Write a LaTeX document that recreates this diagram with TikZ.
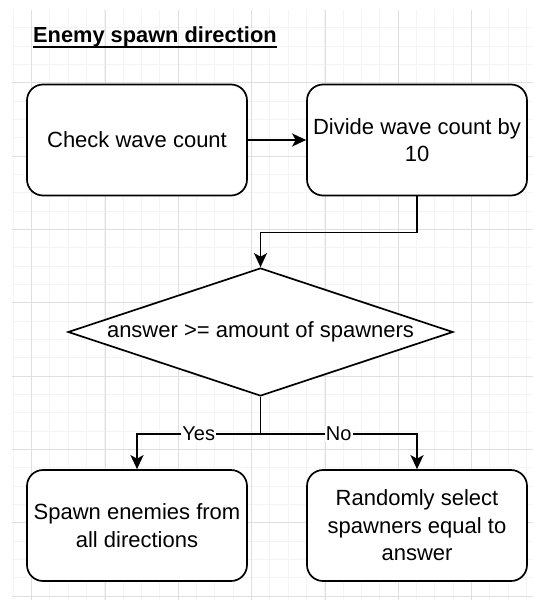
\documentclass[tikz,border=0pt]{standalone}
\usepackage{fontspec}
\setmainfont{Liberation Sans}
\usetikzlibrary{arrows.meta,shapes.geometric}
\newcommand\myunderline[1]{\leavevmode\setbox0\hbox{#1}\rlap{\rule[-5pt]{\wd0}{1.6pt}}\box0}
\begin{document}
\begin{tikzpicture}[x=1pt,y=-1pt,
  minorline/.style={draw=gray!9, line width=1pt},
  majorline/.style={draw=gray!25, line width=1pt},
  box/.style={draw=black, line width=1.7pt, rounded corners=16pt, fill=white,
    minimum width=220pt, minimum height=111pt, inner sep=0pt, align=center,
    font=\fontsize{22pt}{27.5pt}\selectfont},
  decision/.style={diamond, draw=black, line width=1.7pt, fill=white,
    minimum width=385pt, minimum height=128pt, inner sep=0pt, aspect=3,
    font=\fontsize{22pt}{27.5pt}\selectfont},
  arr/.style={draw=black, line width=1.7pt, -{Stealth[length=14pt,width=13pt,inset=3.5pt]}},
  lbl/.style={fill=white, inner sep=1pt, font=\fontsize{20pt}{24pt}\selectfont},
  titlestyle/.style={anchor=base west, inner sep=0pt, font=\fontsize{21.8pt}{26pt}\selectfont\bfseries}
]
\useasboundingbox (0,0) rectangle (533,602);
\fill[white] (0,0) rectangle (533,602);
% grid
\foreach \i in {0,...,28} \draw[minorline] ({13.333+18.333*\i},10) -- ({13.333+18.333*\i},600);
\foreach \j in {1,...,32} \draw[minorline] (12,{9.4+18.333*\j}) -- (533,{9.4+18.333*\j});
\foreach \i in {0,...,6} \draw[majorline] ({31.667+73.333*\i},10) -- ({31.667+73.333*\i},600);
\foreach \j in {0,...,7} \draw[majorline] (12,{82.7+73.333*\j}) -- (533,{82.7+73.333*\j});
% title
\node[titlestyle] (title) at (33,43) {\myunderline{Enemy spawn direction}};
% nodes
\node[box] (check) at (137,140) {Check wave count};
\node[box] (divide) at (417,140) {Divide wave count by\\10};
\node[decision] (ans) at (260.5,332) {\makebox[0pt]{answer >= amount of spawners}};
\node[box] (spawnall) at (137,525.5) {Spawn enemies from\\all directions};
\node[box] (randsel) at (417,525.5) {Randomly select\\spawners equal to\\answer};
% connectors
\draw[arr] (check) -- (divide);
\draw[arr] (divide.south) -- ++(0,36) -| (ans.north);
\draw[arr] (ans.south) -- ++(0,37) -| node[pos=0.25, lbl] {Yes} (spawnall.north);
\draw[arr] (ans.south) -- ++(0,37) -| node[pos=0.25, lbl] {No} (randsel.north);
\end{tikzpicture}
\end{document}
